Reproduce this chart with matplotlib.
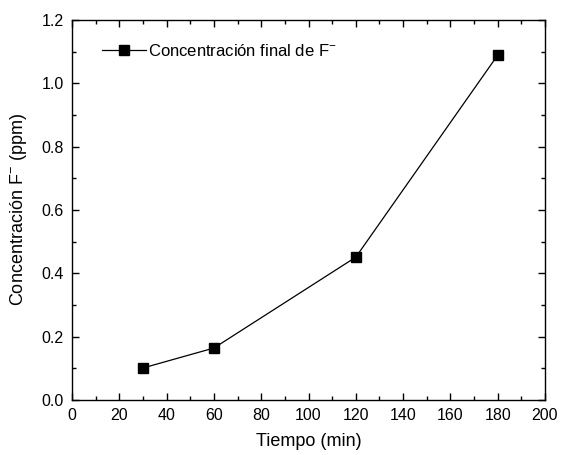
import matplotlib
matplotlib.use('Agg')
import matplotlib.pyplot as plt
from matplotlib.ticker import MultipleLocator

tiempo = [30, 60, 120, 180]
concentracion = [0.101, 0.164, 0.451, 1.089]

plt.rcParams['font.family'] = ['Liberation Sans', 'DejaVu Sans']
plt.rcParams['mathtext.fontset'] = 'custom'
plt.rcParams['mathtext.rm'] = 'Liberation Sans'
plt.rcParams['mathtext.it'] = 'Liberation Sans'

fig = plt.figure(figsize=(5.63, 4.55), dpi=100)
ax = fig.add_axes([0.128, 0.121, 0.84, 0.835])

ax.plot(tiempo, concentracion, color='black', linewidth=0.9, marker='s',
        markersize=6.5, label='Concentración final de F$^{-}$')

ax.set_xlim(0, 200)
ax.set_ylim(0, 1.2)
ax.xaxis.set_major_locator(MultipleLocator(20))
ax.xaxis.set_minor_locator(MultipleLocator(10))
ax.yaxis.set_major_locator(MultipleLocator(0.2))
ax.yaxis.set_minor_locator(MultipleLocator(0.1))
ax.yaxis.set_major_formatter(plt.FormatStrFormatter('%.1f'))

ax.tick_params(which='both', direction='in', top=True, right=True, labelsize=11.5)
ax.tick_params(which='major', length=5, width=1, pad=6)
ax.tick_params(which='minor', length=3, width=1)
for s in ax.spines.values():
    s.set_linewidth(1)

ax.set_xlabel('Tiempo (min)', fontsize=13, labelpad=7)
ax.set_ylabel('Concentración F$^{-}$ (ppm)', fontsize=13, labelpad=9)

ax.legend(loc='upper left', frameon=False, fontsize=12, handlelength=2.6,
          handletextpad=0.15, bbox_to_anchor=(0.032, 0.98))

fig.savefig('out.png', dpi=100)
